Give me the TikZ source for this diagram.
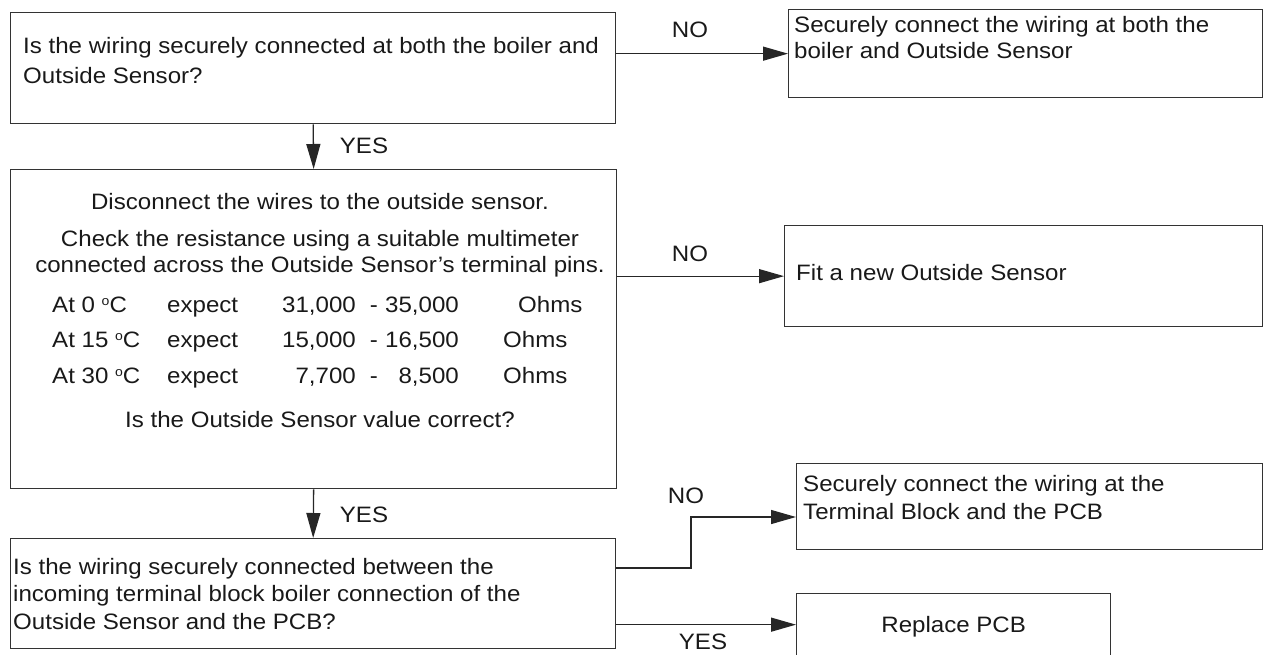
\documentclass[tikz,border=0pt]{standalone}
\usepackage{fontspec}
\setmainfont{Liberation Sans}[FakeStretch=1.08]
\usetikzlibrary{arrows.meta}
\newcommand{\degsign}{\raisebox{6.5pt}{\fontsize{13}{13}\selectfont o}}
\begin{document}
\begin{tikzpicture}[x=1pt,y=-1pt,
  box/.style={draw=black!80, line width=1.3pt, inner sep=0pt, anchor=north west},
  txt/.style={anchor=base west, inner sep=0pt, font=\fontsize{22.3}{26}\selectfont, text=black!90},
  ctxt/.style={txt, anchor=base},
  rtxt/.style={txt, anchor=base east},
  conn/.style={draw=black!85, line width=1.3pt, -{Triangle[length=25pt,width=14pt]}},
]
\useasboundingbox (0,0) rectangle (1272,654);

% boxes
\node[box, minimum width=605pt, minimum height=111pt] (b1) at (10,12) {};
\node[box, minimum width=474pt, minimum height=88pt]  (b2) at (788,9) {};
\node[box, minimum width=606pt, minimum height=319pt] (b3) at (10,169) {};
\node[box, minimum width=478pt, minimum height=101pt] (b4) at (784,225) {};
\node[box, minimum width=605pt, minimum height=110pt] (b5) at (10,538) {};
\node[box, minimum width=466pt, minimum height=86pt]  (b6) at (796,463) {};
\node[box, minimum width=314pt, minimum height=62pt]  (b7) at (796,593) {};

% box 1 text
\node[txt] (t1a) at (23,53) {Is the wiring securely connected at both the boiler and};
\node[txt] (t1b) at (23,83) {Outside Sensor?};
% box 2 text
\node[txt] (t2a) at (794,32) {Securely connect the wiring at both the};
\node[txt] (t2b) at (794,58) {boiler and Outside Sensor};
% box 3 text
\node[ctxt] (t3a) at (320,209) {Disconnect the wires to the outside sensor.};
\node[ctxt] (t3b) at (320,246) {Check the resistance using a suitable multimeter};
\node[ctxt] (t3c) at (320,272) {connected across the Outside Sensor’s terminal pins.};
\node[txt]  (r1a) at (52,312) {At 0 \degsign C};
\node[txt]  (r1b) at (167,312) {expect};
\node[rtxt] (r1c) at (356,312) {31,000};
\node[ctxt] (r1d) at (374,312) {-};
\node[rtxt] (r1e) at (459,312) {35,000};
\node[txt]  (r1f) at (518,312) {Ohms};
\node[txt]  (r2a) at (52,347) {At 15 \degsign C};
\node[txt]  (r2b) at (167,347) {expect};
\node[rtxt] (r2c) at (356,347) {15,000};
\node[ctxt] (r2d) at (374,347) {-};
\node[rtxt] (r2e) at (459,347) {16,500};
\node[txt]  (r2f) at (503,347) {Ohms};
\node[txt]  (r3a) at (52,383) {At 30 \degsign C};
\node[txt]  (r3b) at (167,383) {expect};
\node[rtxt] (r3c) at (356,383) {7,700};
\node[ctxt] (r3d) at (374,383) {-};
\node[rtxt] (r3e) at (459,383) {8,500};
\node[txt]  (r3f) at (503,383) {Ohms};
\node[ctxt] (t3q) at (320,427) {Is the Outside Sensor value correct?};
% box 4 text
\node[txt] (t4) at (796,280) {Fit a new Outside Sensor};
% box 5 text
\node[txt] (t5a) at (13,574) {Is the wiring securely connected between the};
\node[txt] (t5b) at (13,601) {incoming terminal block boiler connection of the};
\node[txt] (t5c) at (13,629) {Outside Sensor and the PCB?};
% box 6 text
\node[txt] (t6a) at (803,491) {Securely connect the wiring at the};
\node[txt] (t6b) at (803,519) {Terminal Block and the PCB};
% box 7 text
\node[ctxt] (t7) at (b7.center |- 0,632) {Replace PCB};

% connectors
\draw[conn] (b1.east |- b2.west) -- (b2.west);
\node[ctxt] (l1) at (690,37) {NO};
\draw[conn] (b1.south) -- (b3.north);
\node[ctxt] (l2) at (364,153) {YES};
\draw[conn] (b3.east |- b4.west) -- (b4.west);
\node[ctxt] (l3) at (690,261) {NO};
\draw[conn] (b3.south) -- (b5.north);
\node[ctxt] (l4) at (364,522) {YES};
\coordinate (k1) at (691,568);
\coordinate (k2) at (691,517);
\draw[conn] (b5.east |- k1) -- (k1) -- (k2) -- (b6.west |- k2);
\node[ctxt] (l5) at (686,503) {NO};
\draw[conn] (b5.east |- b7.west) -- (b7.west);
\node[ctxt] (l6) at (703,649) {YES};
\end{tikzpicture}
\end{document}
